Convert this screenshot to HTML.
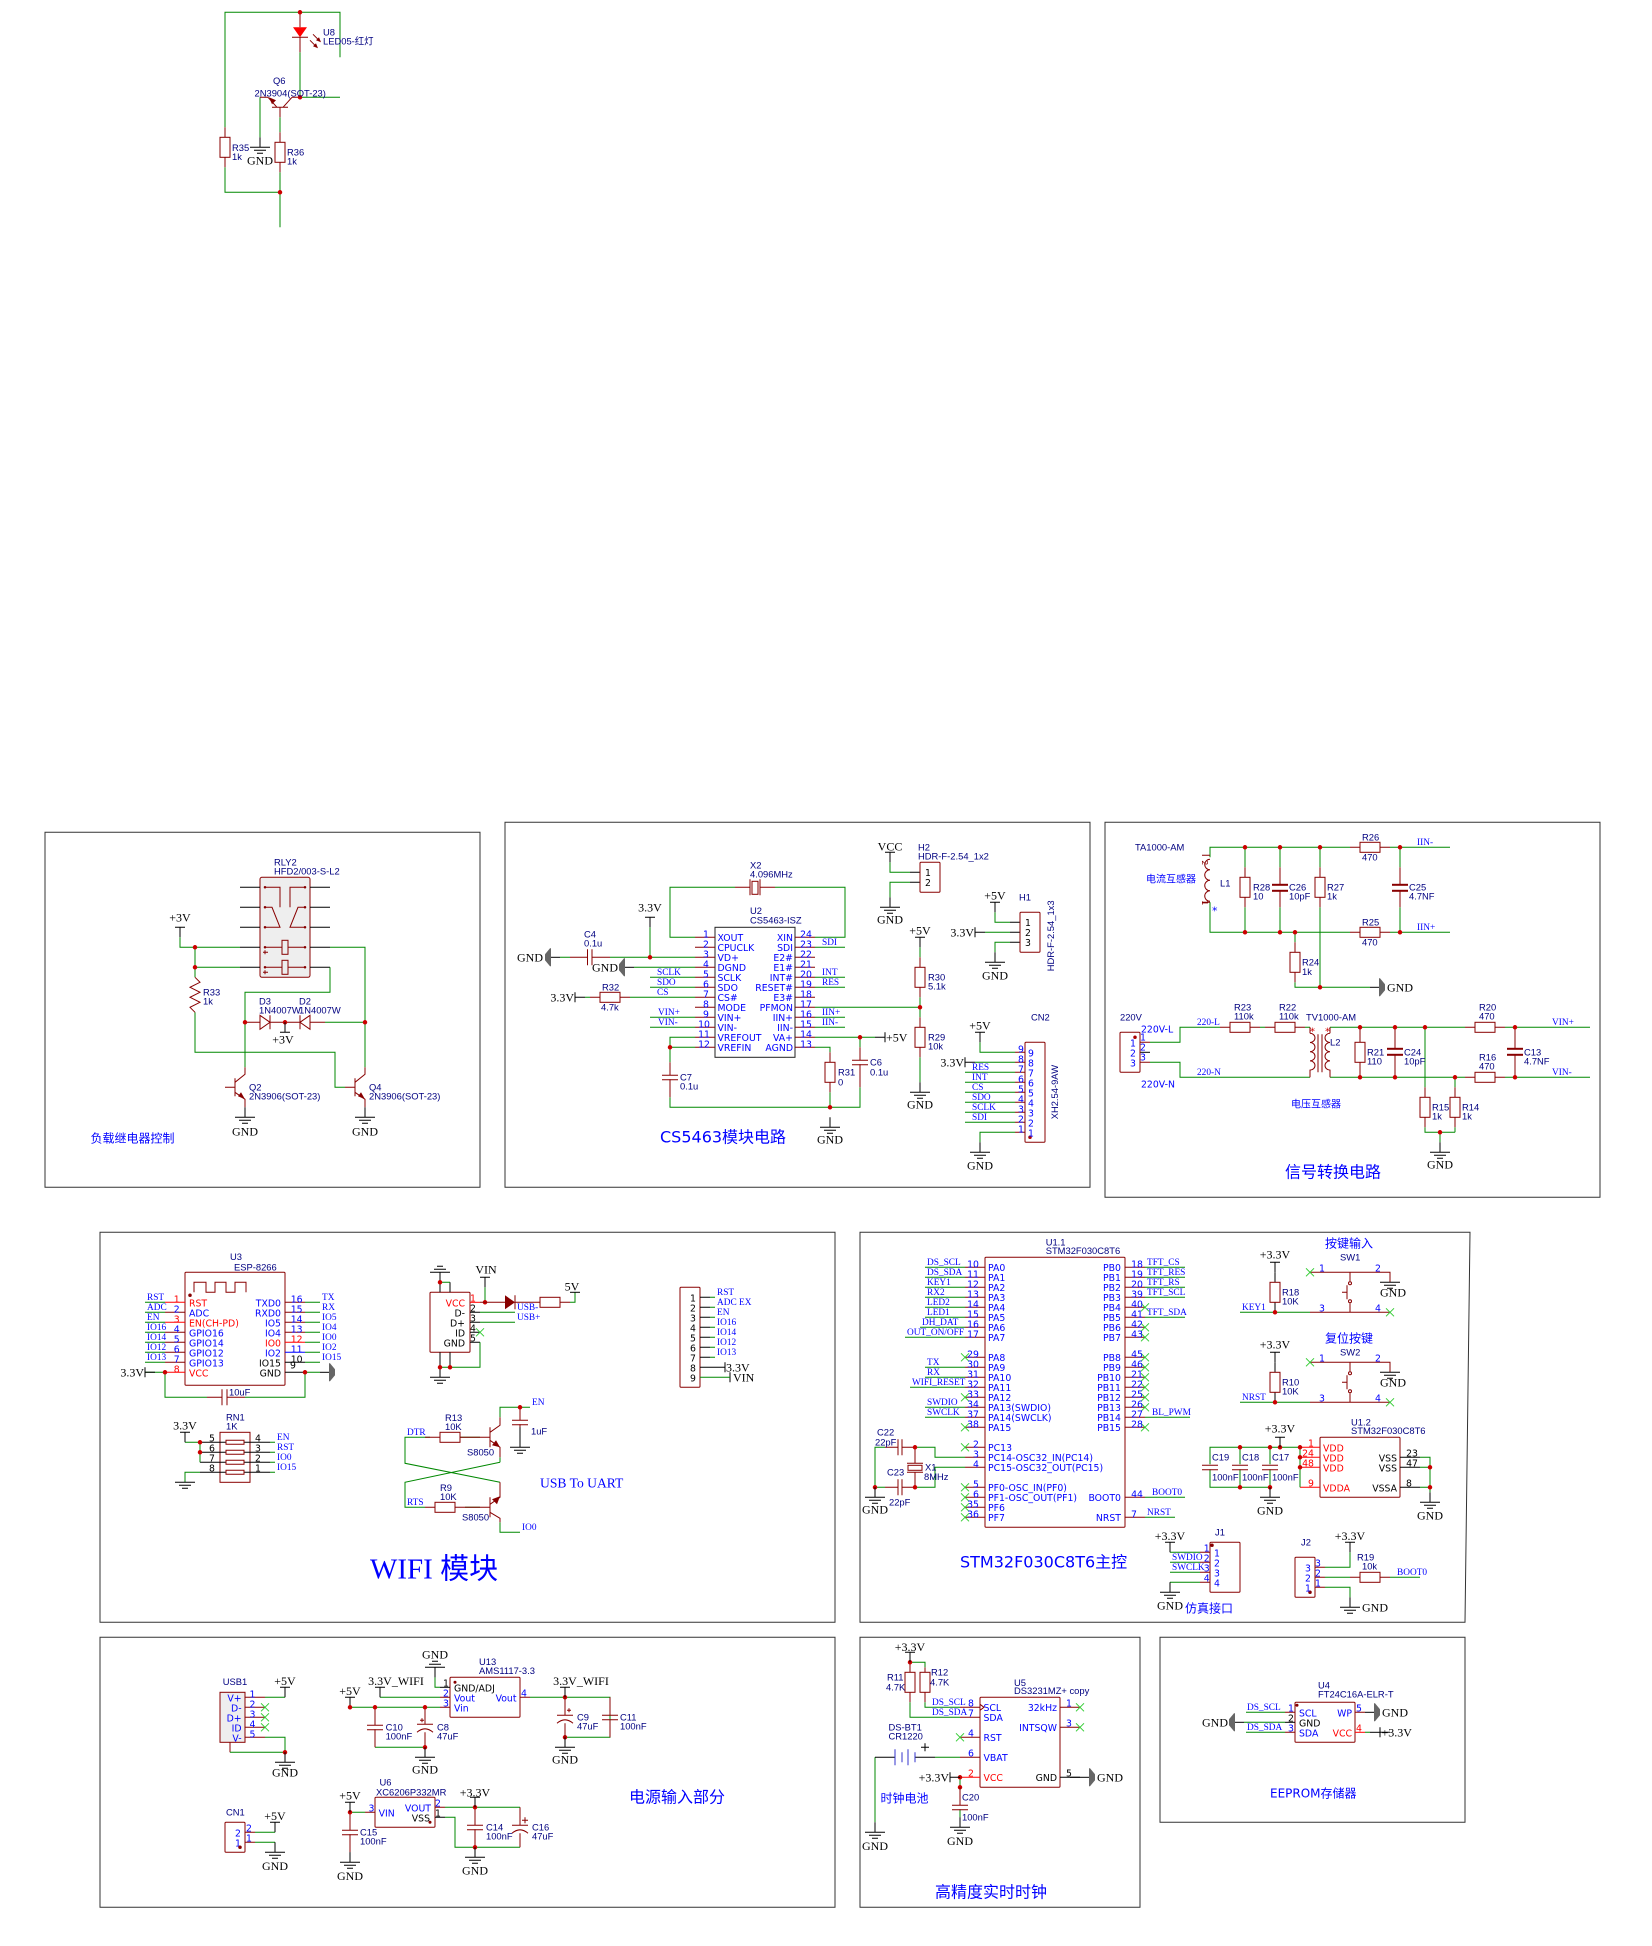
<!DOCTYPE html>
<html><head><meta charset="utf-8"><title>Schematic</title>
<style>
html,body{margin:0;padding:0;background:#fff}
svg{display:block;filter:blur(.3px)}
path,rect,line,polyline{fill:none;stroke-width:1}
.w{stroke:#008800}.p{stroke:#880000}.b{stroke:#000}.R{stroke:#ff0000}.f{stroke:#333}
.d{stroke:#cc0000;stroke-width:4.5;stroke-linecap:round}
.ft{fill:#880000;stroke:none}
.x{stroke:#33cc33}
text{white-space:pre}
.n{font:9.4px "Liberation Sans","Noto Sans CJK SC",sans-serif;fill:#000080}
.a{font:9.33px "DejaVu Sans",sans-serif;fill:#0000ff}
.ae{font:9.33px "DejaVu Sans",sans-serif;fill:#0000ff;text-anchor:end}
.ar{font:9.33px "DejaVu Sans",sans-serif;fill:#ff0000}
.are{font:9.33px "DejaVu Sans",sans-serif;fill:#ff0000;text-anchor:end}
.ak{font:9.33px "DejaVu Sans",sans-serif;fill:#000}
.ake{font:9.33px "DejaVu Sans",sans-serif;fill:#000;text-anchor:end}
.c{font:9.33px "DejaVu Sans",sans-serif;fill:#0000ff;text-anchor:middle}
.cr{font:9.33px "DejaVu Sans",sans-serif;fill:#ff0000;text-anchor:middle}
.ck{font:9.33px "DejaVu Sans",sans-serif;fill:#000;text-anchor:middle}
.l{font:9.33px "Liberation Serif",serif;fill:#0000ff}
.g{font:12px "Liberation Serif",serif;fill:#000;text-anchor:middle}
.gs{font:12px "Liberation Serif",serif;fill:#000}
.ge{font:12px "Liberation Serif",serif;fill:#000;text-anchor:end}
.t16{font:16px "DejaVu Sans","Noto Sans CJK SC",sans-serif;fill:#0000ff}
.t12{font:12px "DejaVu Sans","Noto Sans CJK SC",sans-serif;fill:#0000ff}
.t10{font:10px "DejaVu Sans","Noto Sans CJK SC",sans-serif;fill:#0000ff}
</style></head><body>
<svg xmlns="http://www.w3.org/2000/svg" width="1652" height="1946" viewBox="0 0 1652 1946">
<defs>
<path id="G" class="b" d="M0 -10V0M-10 0H10M-6 3H6M-3 6H3"/>
<path id="Gu" class="b" d="M0 10V0M-10 0H10M-6 -3H6M-3 -6H3"/>
<g id="Gl"><path class="b" d="M10 0H0"/><polygon points="0,-9 1,-9 1,9 0,9 -5,3 -5,-3" fill="#666"/></g>
<g id="Gr"><path class="b" d="M-10 0H0"/><polygon points="0,-9 -1,-9 -1,9 0,9 5,3 5,-3" fill="#666"/></g>
<path id="P" class="b" d="M0 10V0M-5 0H5"/>
<path id="Pl" class="b" d="M10 0H0M0 -5V5"/>
<path id="X" class="x" d="M-4 -4L4 4M4 -4L-4 4"/>
<rect id="V" class="p" x="-5" y="0" width="10" height="20"/>
<rect id="H" class="p" x="0" y="-5" width="20" height="10"/>
<path id="C" class="p" d="M-8 0H8M-8 4.5H8"/>
<path id="CP" class="p" d="M-8 0H8M-8 8Q0 1 8 8"/>
<path id="Cv" class="p" d="M0 -8V8M4.5 -8V8"/>
</defs>
<g transform="translate(0,2.3)">

<!-- frames -->
<path class="f" d="M45 830H480V1185H45Z"/>
<path class="f" d="M505 820H1090V1185H505Z"/>
<path class="f" d="M1105 820H1600V1195H1105Z"/>
<path class="f" d="M100 1230H835V1620H100Z"/>
<path class="f" d="M860 1230H1470L1465 1620H860Z"/>
<path class="f" d="M100 1635H835V1905H100Z"/>
<path class="f" d="M860 1635H1140V1905H860Z"/>
<path class="f" d="M1160 1635H1465V1820H1160Z"/>

<!-- block 0: LED driver -->
<path class="w" d="M225 125V10H340V55M300 50V95H340M260 95V135M280 115V130M280 170V225M225 165V190H280"/>
<path class="p" d="M300 10V25M300 35V50M292 35H308M268 95L277 105M292 95L283 105M292 95H300M260 95H268M272 105H288M280 105V115M280 130V140M280 160V170M225 125V135M225 155V165M313 32L320 39M310 38L317 45"/>
<polygon points="293,25 307,25 300,35" fill="#ff0000"/>
<polygon class="ft" points="269,95 276,98 272,102"/>
<polygon class="ft" points="321,40 316,38 319,35"/><polygon class="ft" points="318,46 313,44 316,41"/>
<rect class="p" x="220" y="135" width="10" height="20"/><use href="#V" x="280" y="140"/>
<path class="d" d="M300 10h0M300 95h0M280 190h0"/>
<use href="#G" x="260" y="145"/>
<text class="g" x="260" y="162">GND</text>
<text class="n" x="323" y="33">U8</text><text class="n" x="323" y="42">LED05-红灯</text>
<text class="n" x="273" y="81.5">Q6</text><text class="n" x="254.5" y="94">2N3904(SOT-23)</text>
<text class="n" x="232" y="148.5">R35</text><text class="n" x="232" y="157.5">1k</text>
<text class="n" x="287" y="153">R36</text><text class="n" x="287" y="162">1k</text>

<!-- block 1: relay -->
<rect x="260" y="875" width="50" height="100" rx="2" fill="#eeeeee" style="fill:#eee;stroke:#880000"/>
<path class="b" d="M240 885H260M240 905H260M240 925H260M240 945H260M240 965H260M310 885H330M310 905H330M310 925H330M310 945H330M310 965H330"/>
<path class="p" d="M265 885H280V905M265 905H272L280 925H265M305 885H290V905M305 905H298L290 925H305M265 945H282M288 945H305M265 965H282M288 965H305M263 950H268M265 948V952M263 970H268M265 968V972"/>
<rect class="p" x="282" y="938" width="6" height="14"/><rect class="p" x="282" y="958" width="6" height="14"/>
<path d="M265 885h0M265 905h0M265 925h0M305 885h0M305 905h0M305 925h0M265 945h0M305 945h0M265 965h0M305 965h0" style="stroke:#880000;stroke-width:2.5;stroke-linecap:round"/>
<use href="#P" x="180" y="925"/><text class="g" x="180" y="919">+3V</text>
<path class="w" d="M180 935V945H240M195 945V975M195 965H240M195 1010V1050H335V1085H345M330 945H365V1065M330 965V990H245V1065M325 1020H365"/>
<path class="p" d="M195 975L200 980L190 985L200 990L190 995L200 1000L190 1005L195 1010M345 1085H355M225 1085H235M245 1020H260M270 1020H300M310 1020H325M245 1065V1072L235 1080M235 1090L245 1097V1105M365 1065V1072L355 1080M355 1090L365 1097V1105M235 1076V1094M355 1076V1094"/>
<path class="p" d="M260 1013V1027L270 1020ZM270 1013V1027M310 1013V1027L300 1020ZM300 1013V1027"/>
<polygon class="ft" points="245,1097 238,1094 241,1090"/><polygon class="ft" points="365,1097 358,1094 361,1090"/>
<path class="d" d="M195 945h0M195 965h0M245 1020h0M285 1020h0M365 1020h0"/>
<path class="b" d="M285 1020V1030M280 1030H290"/>
<text class="g" x="283" y="1041">+3V</text>
<use href="#G" x="245" y="1115"/><use href="#G" x="365" y="1115"/>
<text class="g" x="245" y="1133">GND</text><text class="g" x="365" y="1133">GND</text>
<text class="n" x="274" y="863">RLY2</text><text class="n" x="274" y="872">HFD2/003-S-L2</text>
<text class="n" x="203" y="993">R33</text><text class="n" x="203" y="1002">1k</text>
<text class="n" x="259" y="1002">D3</text><text class="n" x="259" y="1011">1N4007W</text>
<text class="n" x="299" y="1002">D2</text><text class="n" x="299" y="1011">1N4007W</text>
<text class="n" x="249" y="1088">Q2</text><text class="n" x="249" y="1097">2N3906(SOT-23)</text>
<text class="n" x="369" y="1088">Q4</text><text class="n" x="369" y="1097">2N3906(SOT-23)</text>
<text class="t12" x="90.5" y="1140">负载继电器控制</text>

<!-- block 2: CS5463 -->
<rect x="715" y="925" width="80" height="130" style="stroke:#222"/>
<path class="p" d="M695 935H715M695 945H715M695 955H715M695 965H715M695 975H715M695 985H715M695 995H715M695 1005H715M695 1015H715M695 1025H715M695 1035H715M695 1045H715M795 935H815M795 945H815M795 955H815M795 965H815M795 975H815M795 985H815M795 995H815M795 1005H815M795 1015H815M795 1025H815M795 1035H815M795 1045H815"/>
<path class="w" d="M695 935H670V885H735M775 885H845V935H815M815 945H845M650 925V955H695M610 955H650M560 955H570M634 965H695M650 975H695M650 985H695M630 995H695M650 1015H695M650 1025H695M695 1035H670V1060M695 1045H670M585 995H590M815 975H845M815 985H845M815 1015H845M815 1025H845M815 1035H875M815 1005H920M815 1045H830V1050M830 1090V1105M670 1095V1105H860V1085M860 1035V1045M920 945V955M920 995V1015M920 1055V1080M890 860V870H910M910 880H890V895M995 910V920H1010M985 930H1010M1010 940H995V950M980 1040V1050H1015M975 1060H1015M965 1070H1015M965 1080H1015M965 1090H1015M965 1100H1015M965 1110H1015M965 1120H1015M1015 1130H980V1140"/>
<path class="p" d="M735 885H750M760 885H775M570 955H587M592 955H610M590 995H600M620 995H630M670 1060V1073M670 1077V1095M830 1050V1060M830 1080V1090M860 1045V1058M860 1062V1085M920 955V965M920 985V995M920 1015V1025M920 1045V1055M1015 1050H1025M1015 1060H1025M1015 1070H1025M1015 1080H1025M1015 1090H1025M1015 1100H1025M1015 1110H1025M1015 1120H1025M1015 1130H1025"/>
<path class="p" d="M750 877V893M760 877V893"/><rect class="p" x="752" y="879" width="6" height="13"/>
<use href="#Cv" x="587.5" y="955"/><use href="#C" x="670" y="1073"/><use href="#C" x="860" y="1058"/>
<use href="#H" x="600" y="995"/><use href="#V" x="830" y="1060"/><use href="#V" x="920" y="965"/><use href="#V" x="920" y="1025"/>
<path class="d" d="M650 955h0M670 1045h0M830 1105h0M860 1035h0M920 1005h0"/>
<use href="#P" x="650" y="915"/><text class="g" x="650" y="909">3.3V</text>
<use href="#Gl" x="550" y="955"/><text class="ge" x="543" y="959">GND</text>
<use href="#Gl" x="624" y="965"/><text class="ge" x="618" y="969">GND</text>
<use href="#Pl" x="575" y="995"/><text class="ge" x="574" y="999">3.3V</text>
<path class="b" d="M875 1035H885M885 1030V1040"/><text class="gs" x="886" y="1039">+5V</text>
<use href="#G" x="830" y="1125"/><text class="g" x="830" y="1141">GND</text>
<use href="#P" x="920" y="935"/><text class="g" x="920" y="932">+5V</text>
<use href="#G" x="920" y="1090"/><text class="g" x="920" y="1106">GND</text>
<use href="#P" x="890" y="850"/><text class="g" x="890" y="848">VCC</text>
<use href="#G" x="890" y="905"/><text class="g" x="890" y="921">GND</text>
<use href="#P" x="995" y="900"/><text class="g" x="995" y="897">+5V</text>
<use href="#Pl" x="975" y="930"/><text class="ge" x="974" y="934">3.3V</text>
<use href="#G" x="995" y="960"/><text class="g" x="995" y="977">GND</text>
<use href="#P" x="980" y="1030"/><text class="g" x="980" y="1027">+5V</text>
<use href="#Pl" x="965" y="1060"/><text class="ge" x="964" y="1064">3.3V</text>
<use href="#G" x="980" y="1150"/><text class="g" x="980" y="1167">GND</text>
<path class="b" d="M910 870H920M910 880H920M1010 920H1020M1010 930H1020M1010 940H1020"/>
<rect x="920" y="860" width="20" height="30" rx="1" class="p"/>
<rect x="1020" y="910" width="20" height="40" rx="1" class="p"/>
<rect x="1025" y="1040" width="20" height="100" rx="1" class="p"/>
<path class="d" d="M1030 1135h0" style="stroke-width:3.5;stroke:#aa0000"/>
<g>
<text class="c" x="706" y="935">1</text><text class="c" x="706" y="945">2</text><text class="c" x="706" y="955">3</text><text class="c" x="706" y="965">4</text><text class="c" x="706" y="975">5</text><text class="c" x="706" y="985">6</text><text class="c" x="706" y="995">7</text><text class="c" x="706" y="1005">8</text><text class="c" x="706" y="1015">9</text><text class="c" x="704" y="1025">10</text><text class="c" x="704" y="1035">11</text><text class="c" x="704" y="1045">12</text>
<text class="c" x="806" y="935">24</text><text class="c" x="806" y="945">23</text><text class="c" x="806" y="955">22</text><text class="c" x="806" y="965">21</text><text class="c" x="806" y="975">20</text><text class="c" x="806" y="985">19</text><text class="c" x="806" y="995">18</text><text class="c" x="806" y="1005">17</text><text class="c" x="806" y="1015">16</text><text class="c" x="806" y="1025">15</text><text class="c" x="806" y="1035">14</text><text class="c" x="806" y="1045">13</text>
<text class="a" x="717.5" y="938.5">XOUT</text><text class="a" x="717.5" y="948.5">CPUCLK</text><text class="a" x="717.5" y="958.5">VD+</text><text class="a" x="717.5" y="968.5">DGND</text><text class="a" x="717.5" y="978.5">SCLK</text><text class="a" x="717.5" y="988.5">SDO</text><text class="a" x="717.5" y="998.5">CS#</text><text class="a" x="717.5" y="1008.5">MODE</text><text class="a" x="717.5" y="1018.5">VIN+</text><text class="a" x="717.5" y="1028.5">VIN-</text><text class="a" x="717.5" y="1038.5">VREFOUT</text><text class="a" x="717.5" y="1048.5">VREFIN</text>
<text class="ae" x="793" y="938.5">XIN</text><text class="ae" x="793" y="948.5">SDI</text><text class="ae" x="793" y="958.5">E2#</text><text class="ae" x="793" y="968.5">E1#</text><text class="ae" x="793" y="978.5">INT#</text><text class="ae" x="793" y="988.5">RESET#</text><text class="ae" x="793" y="998.5">E3#</text><text class="ae" x="793" y="1008.5">PFMON</text><text class="ae" x="793" y="1018.5">IIN+</text><text class="ae" x="793" y="1028.5">IIN-</text><text class="ae" x="793" y="1038.5">VA+</text><text class="ae" x="793" y="1048.5">AGND</text>
</g>
<text class="l" x="822" y="942.7">SDI</text><text class="l" x="822" y="972.7">INT</text><text class="l" x="822" y="982.7">RES</text><text class="l" x="822" y="1012.7">IIN+</text><text class="l" x="822" y="1022.7">IIN-</text>
<text class="l" x="657" y="972.7">SCLK</text><text class="l" x="657" y="982.7">SDO</text><text class="l" x="657" y="992.7">CS</text><text class="l" x="658" y="1012.7">VIN+</text><text class="l" x="658" y="1022.7">VIN-</text>
<text class="n" x="750" y="911.7">U2</text><text class="n" x="750" y="921">CS5463-ISZ</text>
<text class="n" x="750" y="866">X2</text><text class="n" x="750" y="875">4.096MHz</text>
<text class="n" x="584" y="935">C4</text><text class="n" x="584" y="944.4">0.1u</text>
<text class="n" x="602" y="988">R32</text><text class="n" x="601" y="1008">4.7k</text>
<text class="n" x="680" y="1078">C7</text><text class="n" x="680" y="1087">0.1u</text>
<text class="n" x="838" y="1073">R31</text><text class="n" x="838" y="1083">0</text>
<text class="n" x="870" y="1063">C6</text><text class="n" x="870" y="1073">0.1u</text>
<text class="n" x="928" y="978">R30</text><text class="n" x="928" y="987">5.1k</text>
<text class="n" x="928" y="1038">R29</text><text class="n" x="928" y="1047">10k</text>
<text class="n" x="918" y="848">H2</text><text class="n" x="918" y="857">HDR-F-2.54_1x2</text>
<text class="n" x="1019" y="898">H1</text>
<text class="n" transform="translate(1054,969) rotate(-90)">HDR-F-2.54_1x3</text>
<text class="n" x="1031" y="1018">CN2</text>
<text class="n" transform="translate(1058,1117) rotate(-90)">XH2.54-9AW</text>
<text class="ck" x="928" y="873.5" style="fill:#000">1</text><text class="ck" x="928" y="883.5">2</text>
<text class="ck" x="1028" y="923.5">1</text><text class="ck" x="1028" y="933.5">2</text><text class="ck" x="1028" y="943.5">3</text>
<text class="c" x="1021" y="1050">9</text><text class="c" x="1021" y="1060">8</text><text class="c" x="1021" y="1070">7</text><text class="c" x="1021" y="1080">6</text><text class="c" x="1021" y="1090">5</text><text class="c" x="1021" y="1100">4</text><text class="c" x="1021" y="1110">3</text><text class="c" x="1021" y="1120">2</text><text class="c" x="1021" y="1130">1</text>
<text class="c" x="1031" y="1054">9</text><text class="c" x="1031" y="1064">8</text><text class="c" x="1031" y="1074">7</text><text class="c" x="1031" y="1084">6</text><text class="c" x="1031" y="1094">5</text><text class="c" x="1031" y="1104">4</text><text class="c" x="1031" y="1114">3</text><text class="c" x="1031" y="1124">2</text><text class="c" x="1031" y="1134">1</text>
<text class="l" x="972" y="1067.7">RES</text><text class="l" x="972" y="1077.7">INT</text><text class="l" x="972" y="1087.7">CS</text><text class="l" x="972" y="1097.7">SDO</text><text class="l" x="972" y="1107.7">SCLK</text><text class="l" x="972" y="1117.7">SDI</text>
<text class="t16" x="660" y="1140">CS5463模块电路</text>

<!-- block 3: signal -->
<path class="w" d="M1210 855V845H1350M1390 845H1450M1210 900V930H1350M1390 930H1450M1245 845V865M1245 905V930M1280 845V865M1280 905V930M1320 845V865M1320 905V985M1400 845V865M1400 905V930M1295 930V940M1295 980V985H1370M1150 1040H1180V1025H1220M1260 1025H1265M1305 1025H1310M1150 1060H1180V1075H1310M1330 1025H1465M1505 1025H1590M1330 1075H1465M1505 1075H1590M1425 1025V1085M1455 1075V1085M1425 1125V1130H1455M1455 1125V1130M1440 1130V1140"/>
<path class="p" d="M1350 845H1360M1380 845H1390M1350 930H1360M1380 930H1390M1245 865V875M1245 895V905M1280 865V882M1280 889V905M1320 865V875M1320 895V905M1400 865V882M1400 889V905M1295 940V950M1295 970V980M1220 1025H1230M1250 1025H1260M1265 1025H1275M1295 1025H1305M1465 1025H1475M1495 1025H1505M1465 1075H1475M1495 1075H1505M1360 1025V1040M1360 1060V1075M1395 1025V1046M1395 1053V1075M1425 1085V1095M1425 1115V1125M1455 1085V1095M1455 1115V1125M1515 1025V1046M1515 1053V1075M1140 1040H1150M1140 1060H1150M1318 1032V1070M1322 1032V1070M1202 853H1210M1202 900H1210"/>
<path class="b" d="M1140 1050H1150"/>
<path class="p" d="M1210 857a5 5 0 0 0 0 10.5a5 5 0 0 0 0 10.5a5 5 0 0 0 0 10.5a5 5 0 0 0 0 10.5"/>
<path class="p" d="M1310 1031a5 4.6 0 0 1 0 9.2a5 4.6 0 0 1 0 9.2a5 4.6 0 0 1 0 9.2a5 4.6 0 0 1 0 9.2V1075M1330 1031a5 4.6 0 0 0 0 9.2a5 4.6 0 0 0 0 9.2a5 4.6 0 0 0 0 9.2a5 4.6 0 0 0 0 9.2V1075M1310 1025V1031M1330 1025V1031"/>
<use href="#H" x="1360" y="845"/><use href="#H" x="1360" y="930"/><use href="#V" x="1245" y="875"/><use href="#V" x="1320" y="875"/><use href="#V" x="1295" y="950"/>
<use href="#H" x="1230" y="1025"/><use href="#H" x="1275" y="1025"/><use href="#H" x="1475" y="1025"/><use href="#H" x="1475" y="1075"/><use href="#V" x="1360" y="1040"/><use href="#V" x="1425" y="1095"/><use href="#V" x="1455" y="1095"/>
<rect class="p" x="1272.5" y="882" width="15" height="1"/><rect class="p" x="1272.5" y="888" width="15" height="1"/>
<rect class="p" x="1392.5" y="882" width="15" height="1"/><rect class="p" x="1392.5" y="888" width="15" height="1"/>
<rect class="p" x="1387.5" y="1046" width="15" height="1"/><rect class="p" x="1387.5" y="1052" width="15" height="1"/>
<rect class="p" x="1507.5" y="1046" width="15" height="1"/><rect class="p" x="1507.5" y="1052" width="15" height="1"/>
<rect class="p" x="1120" y="1030" width="20" height="40" rx="1"/>
<path class="d" d="M1245 845h0M1280 845h0M1320 845h0M1400 845h0M1245 930h0M1280 930h0M1295 930h0M1400 930h0M1320 985h0M1360 1025h0M1395 1025h0M1425 1025h0M1515 1025h0M1360 1075h0M1395 1075h0M1455 1075h0M1515 1075h0M1440 1130h0"/>
<path class="d" d="M1135 1035h0" style="stroke-width:3.5;stroke:#aa0000"/>
<use href="#Gr" x="1380" y="985"/>
<text class="gs" x="1387" y="989">GND</text>
<use href="#G" x="1440" y="1150"/><text class="g" x="1440" y="1166">GND</text>
<text class="n" x="1135" y="848">TA1000-AM</text><text class="t10" x="1146" y="880">电流互感器</text>
<text class="n" x="1220" y="884">L1</text>
<text transform="translate(1202,858) rotate(90)" style="font:8px 'DejaVu Sans',sans-serif;fill:#880000">2</text>
<text transform="translate(1202,898) rotate(90)" style="font:8px 'DejaVu Sans',sans-serif;fill:#880000">1</text>
<text x="1212" y="912" style="font:11px 'DejaVu Sans',sans-serif;fill:#0000ff">*</text>
<text x="1310" y="1032" style="font:10px 'DejaVu Sans',sans-serif;fill:#cc0000">*</text>
<text x="1325" y="1032" style="font:10px 'DejaVu Sans',sans-serif;fill:#cc0000">*</text>
<text class="n" x="1253" y="888">R28</text><text class="n" x="1253" y="897">10</text>
<text class="n" x="1289" y="888">C26</text><text class="n" x="1289" y="897">10pF</text>
<text class="n" x="1327" y="888">R27</text><text class="n" x="1327" y="897">1k</text>
<text class="n" x="1409" y="888">C25</text><text class="n" x="1409" y="897">4.7NF</text>
<text class="n" x="1362" y="838">R26</text><text class="n" x="1362" y="858">470</text>
<text class="n" x="1362" y="923">R25</text><text class="n" x="1362" y="943">470</text>
<text class="l" x="1417" y="842.7">IIN-</text><text class="l" x="1417" y="927.7">IIN+</text>
<text class="n" x="1302" y="963.4">R24</text><text class="n" x="1302" y="972.7">1k</text>
<text class="n" x="1120" y="1018">220V</text>
<text class="a" x="1141" y="1030">220V-L</text><text class="a" x="1141" y="1085">220V-N</text>
<text class="c" x="1133" y="1044">1</text><text class="c" x="1133" y="1054">2</text><text class="c" x="1133" y="1064">3</text>
<text class="c" x="1143" y="1038">1</text><text class="c" x="1143" y="1048">2</text><text class="c" x="1143" y="1058">3</text>
<text class="l" x="1197" y="1022.7">220-L</text><text class="l" x="1197" y="1072.7">220-N</text>
<text class="n" x="1234" y="1008">R23</text><text class="n" x="1234" y="1017">110k</text>
<text class="n" x="1279" y="1008">R22</text><text class="n" x="1279" y="1017">110k</text>
<text class="n" x="1306" y="1018">TV1000-AM</text><text class="n" x="1330" y="1043">L2</text>
<text class="n" x="1367" y="1053.4">R21</text><text class="n" x="1367" y="1062">110</text>
<text class="n" x="1404" y="1053.4">C24</text><text class="n" x="1404" y="1062">10pF</text>
<text class="n" x="1524" y="1053.4">C13</text><text class="n" x="1524" y="1062">4.7NF</text>
<text class="n" x="1479" y="1008">R20</text><text class="n" x="1479" y="1017">470</text>
<text class="n" x="1479" y="1058">R16</text><text class="n" x="1479" y="1067">470</text>
<text class="l" x="1552" y="1022.7">VIN+</text><text class="l" x="1552" y="1072.7">VIN-</text>
<text class="n" x="1432" y="1108">R15</text><text class="n" x="1432" y="1117">1k</text>
<text class="n" x="1462" y="1108">R14</text><text class="n" x="1462" y="1117">1k</text>
<text class="t10" x="1291" y="1105">电压互感器</text>
<text class="t16" x="1285" y="1175">信号转换电路</text>

<!-- block 4: WIFI -->
<rect class="p" x="185" y="1270" width="100" height="113" rx="1"/>
<path class="p" d="M194 1290V1280H206V1290H215V1280H226V1290H235V1280H246V1290"/>
<path class="p" d="M165 1310H185M165 1330H185M165 1340H185M165 1350H185M165 1360H185M285 1300H305M285 1310H305M285 1320H305M285 1330H305"/>
<path class="R" d="M165 1300H185M165 1320H185M165 1370H185M285 1340H305"/>
<path style="stroke:#0000ff" d="M285 1350H305"/>
<path class="b" d="M285 1360H305M285 1370H305"/>
<path class="w" d="M145 1300H165M145 1310H165M145 1320H165M145 1330H165M145 1340H165M145 1350H165M145 1360H165M305 1300H320M305 1310H320M305 1320H320M305 1330H320M305 1340H320M305 1350H320M305 1360H320M145 1370H165V1395H207M245 1395H305V1370M305 1370H320"/>
<path class="p" d="M207 1395H222M227 1395H245M222 1387V1403M227 1387V1403"/>
<path class="d" d="M165 1370h0M305 1370h0"/>
<path class="d" d="M190 1293h0" style="stroke-width:3.5;stroke:#880000"/>
<use href="#Pl" x="145" y="1370"/><text class="ge" x="144" y="1374">3.3V</text>
<use href="#Gr" x="330" y="1370"/>
<text class="n" x="230" y="1257.7">U3</text><text class="n" x="234" y="1268.4">ESP-8266</text>
<text class="n" x="229" y="1393.4">10uF</text>
<text class="l" x="147" y="1297.7">RST</text><text class="l" x="147" y="1307.7">ADC</text><text class="l" x="147" y="1317.7">EN</text><text class="l" x="147" y="1327.7">IO16</text><text class="l" x="147" y="1337.7">IO14</text><text class="l" x="147" y="1347.7">IO12</text><text class="l" x="147" y="1357.7">IO13</text>
<text class="cr" x="176.7" y="1300">1</text><text class="c" x="176.7" y="1310">2</text><text class="cr" x="176.7" y="1320">3</text><text class="c" x="176.7" y="1330">4</text><text class="c" x="176.7" y="1340">5</text><text class="c" x="176.7" y="1350">6</text><text class="c" x="176.7" y="1360">7</text><text class="cr" x="176.7" y="1370">8</text>
<text class="ar" x="189" y="1304">RST</text><text class="a" x="189" y="1314">ADC</text><text class="ar" x="189" y="1324">EN(CH-PD)</text><text class="a" x="189" y="1334">GPIO16</text><text class="a" x="189" y="1344">GPIO14</text><text class="a" x="189" y="1354">GPIO12</text><text class="a" x="189" y="1364">GPIO13</text><text class="ar" x="189" y="1374">VCC</text>
<text class="ae" x="281" y="1304">TXD0</text><text class="ae" x="281" y="1314">RXD0</text><text class="ae" x="281" y="1324">IO5</text><text class="ae" x="281" y="1334">IO4</text><text class="are" x="281" y="1344">IO0</text><text class="ae" x="281" y="1354">IO2</text><text class="ake" x="281" y="1364">IO15</text><text class="ake" x="281" y="1374">GND</text>
<text class="c" x="296.7" y="1300">16</text><text class="c" x="296.7" y="1310">15</text><text class="c" x="296.7" y="1320">14</text><text class="c" x="296.7" y="1330">13</text><text class="cr" x="296.7" y="1340">12</text><text class="c" x="296.7" y="1350">11</text><text class="ck" x="296.7" y="1360">10</text><text class="ck" x="293" y="1366">9</text>
<text class="l" x="322" y="1297.7">TX</text><text class="l" x="322" y="1307.7">RX</text><text class="l" x="322" y="1317.7">IO5</text><text class="l" x="322" y="1327.7">IO4</text><text class="l" x="322" y="1337.7">IO0</text><text class="l" x="322" y="1347.7">IO2</text><text class="l" x="322" y="1357.7">IO15</text>
<!-- RN1 -->
<rect class="p" x="220" y="1430" width="30" height="50"/>
<path class="b" d="M200 1440H226M244 1440H270M200 1450H226M244 1450H270M200 1460H226M244 1460H270M200 1470H226M244 1470H270"/>
<path class="p" d="M226 1438H244V1442H226ZM226 1448H244V1452H226ZM226 1458H244V1462H226ZM226 1468H244V1472H226Z"/>
<path class="w" d="M185 1440H200V1460M270 1440H275M270 1450H275M270 1460H275M270 1470H275M200 1470H185V1480"/>
<path class="d" d="M200 1440h0M200 1450h0"/>
<use href="#P" x="185" y="1430"/><text class="g" x="185" y="1427">3.3V</text>
<path class="b" d="M175 1480H195M179 1483H191M182 1486H188"/>
<text class="n" x="226" y="1418">RN1</text><text class="n" x="226" y="1427">1K</text>
<text class="ck" x="212" y="1439">5</text><text class="ck" x="212" y="1449">6</text><text class="ck" x="212" y="1459">7</text><text class="ck" x="212" y="1469">8</text>
<text class="ck" x="258" y="1439">4</text><text class="ck" x="258" y="1449">3</text><text class="ck" x="258" y="1459">2</text><text class="ck" x="258" y="1469">1</text>
<text class="l" x="277" y="1437.7">EN</text><text class="l" x="277" y="1447.7">RST</text><text class="l" x="277" y="1457.7">IO0</text><text class="l" x="277" y="1467.7">IO15</text>
<!-- USB connector -->
<rect class="p" x="430" y="1290" width="40" height="60" rx="1"/>
<path class="R" d="M470 1300H480"/>
<path class="b" d="M470 1310H480M470 1320H480M470 1330H480M470 1340H480M440 1280V1290M450 1280V1290M440 1350V1365M450 1350V1365"/>
<path class="w" d="M440 1280H450M450 1365H480V1340M440 1365H450M480 1310H515M480 1320H515M485 1285V1300M570 1300H575V1290"/>
<use href="#Gu" x="440" y="1270"/>
<use href="#G" x="440" y="1375"/>
<path class="d" d="M440 1280h0M440 1365h0M450 1365h0M485 1300h0"/>
<use href="#X" x="480" y="1330"/>
<path class="p" d="M480 1300H505M515 1293V1307M515 1300H540M560 1300H570"/>
<polygon class="ft" points="505,1293 505,1307 515,1300"/>
<use href="#H" x="540" y="1300"/>
<use href="#P" x="485" y="1275"/><text class="g" x="486" y="1271">VIN</text>
<path class="b" d="M570 1290H580"/><text class="g" x="572" y="1288">5V</text>
<text class="are" x="465" y="1304">VCC</text><text class="ake" x="465" y="1314">D-</text><text class="ake" x="465" y="1324">D+</text><text class="ake" x="465" y="1334">ID</text><text class="ake" x="465" y="1344">GND</text>
<text class="cr" x="473" y="1299">1</text><text class="ck" x="473" y="1309">2</text><text class="ck" x="473" y="1319">3</text><text class="ck" x="473" y="1329">4</text><text class="ck" x="473" y="1339">5</text>
<text class="l" x="517" y="1307.7">USB-</text><text class="l" x="517" y="1317.7">USB+</text>
<!-- right header -->
<rect class="p" x="680" y="1285" width="20" height="100" rx="1"/>
<path class="b" d="M700 1295H710M700 1305H710M700 1315H710M700 1325H710M700 1335H710M700 1345H710M700 1355H710M700 1365H725M725 1360V1370M730 1370V1380"/>
<path class="w" d="M710 1295H715M710 1305H715M710 1315H715M710 1325H715M710 1335H715M710 1345H715M710 1355H715M700 1375H730"/>
<text class="ck" x="693" y="1299">1</text><text class="ck" x="693" y="1309">2</text><text class="ck" x="693" y="1319">3</text><text class="ck" x="693" y="1329">4</text><text class="ck" x="693" y="1339">5</text><text class="ck" x="693" y="1349">6</text><text class="ck" x="693" y="1359">7</text><text class="ck" x="693" y="1369">8</text><text class="ck" x="693" y="1379">9</text>
<text class="l" x="717" y="1292.7">RST</text><text class="l" x="717" y="1302.7">ADC EX</text><text class="l" x="717" y="1312.7">EN</text><text class="l" x="717" y="1322.7">IO16</text><text class="l" x="717" y="1332.7">IO14</text><text class="l" x="717" y="1342.7">IO12</text><text class="l" x="717" y="1352.7">IO13</text>
<text class="gs" x="726" y="1369">3.3V</text><text class="gs" x="733" y="1379">VIN</text>
<!-- USB to UART -->
<path class="w" d="M430 1435H405V1461L500 1480M500 1460L405 1480V1505H425M460 1435H480M500 1455V1460M500 1415V1405H530M470 1435H480M465 1505H480M500 1520V1530H520"/>
<path class="p" d="M425 1435H440M460 1435H470M470 1435H490M490 1425V1445M490 1430L500 1423V1415M490 1438L500 1445V1455M425 1505H435M455 1505H465M465 1505H490M490 1495V1515M490 1502L500 1495V1480M490 1510L500 1516V1520M520 1405V1418M520 1422V1430"/>
<use href="#H" x="440" y="1435"/><use href="#H" x="435" y="1505"/>
<use href="#C" x="520" y="1418"/>
<polygon class="ft" points="500,1445 492,1443 496,1438"/><polygon class="ft" points="500,1494 492,1497 497,1502"/>
<path class="b" d="M520 1425V1445M510 1445H530M514 1448H526M517 1451H523"/>
<path class="d" d="M520 1405h0"/>
<text class="l" x="407" y="1432.7">DTR</text><text class="l" x="407" y="1502.7">RTS</text>
<text class="n" x="445" y="1418.7">R13</text><text class="n" x="445" y="1427.7">10K</text>
<text class="n" x="467" y="1453.4">S8050</text>
<text class="n" x="440" y="1488.7">R9</text><text class="n" x="440" y="1497.7">10K</text>
<text class="n" x="462" y="1518.4">S8050</text>
<text class="l" x="532" y="1402.7">EN</text><text class="n" x="531" y="1432">1uF</text>
<text class="l" x="522" y="1527.7">IO0</text>
<text x="540" y="1485.4" style="font:13.6px 'Liberation Serif',serif;fill:#0000ff">USB To UART</text>
<text x="370" y="1576" style="font:29px 'Liberation Serif','Noto Sans CJK SC',serif;fill:#0000ff">WIFI 模块</text>

<!-- block 5: STM32 -->
<rect class="p" x="985" y="1255" width="140" height="270" rx="1"/>
<path class="p" d="M965 1265H985M965 1275H985M965 1285H985M965 1295H985M965 1305H985M965 1315H985M965 1325H985M965 1335H985M965 1355H985M965 1365H985M965 1375H985M965 1385H985M965 1395H985M965 1405H985M965 1415H985M965 1425H985M965 1445H985M965 1455H985M965 1465H985M965 1485H985M965 1495H985M965 1505H985M965 1515H985M1125 1265H1145M1125 1275H1145M1125 1285H1145M1125 1295H1145M1125 1305H1145M1125 1315H1145M1125 1325H1145M1125 1335H1145M1125 1355H1145M1125 1365H1145M1125 1375H1145M1125 1385H1145M1125 1395H1145M1125 1405H1145M1125 1415H1145M1125 1425H1145M1125 1495H1145M1125 1515H1145"/>
<path class="w" d="M925 1265H965M925 1275H965M925 1285H965M925 1295H965M925 1305H965M925 1315H965M920 1325H965M905 1335H965M925 1365H965M925 1375H965M910 1385H965M925 1405H965M925 1415H965M1145 1265H1185M1145 1275H1185M1145 1285H1185M1145 1295H1185M1145 1315H1185M1145 1415H1190M1145 1495H1185M1145 1515H1175"/>
<g>
<use href="#X" x="965" y="1355"/><use href="#X" x="965" y="1395"/><use href="#X" x="965" y="1425"/><use href="#X" x="965" y="1445"/><use href="#X" x="965" y="1485"/><use href="#X" x="965" y="1495"/><use href="#X" x="965" y="1505"/><use href="#X" x="965" y="1515"/>
<use href="#X" x="1145" y="1305"/><use href="#X" x="1145" y="1325"/><use href="#X" x="1145" y="1335"/><use href="#X" x="1145" y="1355"/><use href="#X" x="1145" y="1365"/><use href="#X" x="1145" y="1375"/><use href="#X" x="1145" y="1385"/><use href="#X" x="1145" y="1395"/><use href="#X" x="1145" y="1405"/><use href="#X" x="1145" y="1425"/>
</g>
<text class="n" x="1045.7" y="1243.4">U1.1</text><text class="n" x="1045.7" y="1251.7">STM32F030C8T6</text>
<text class="a" x="988" y="1268.5">PA0</text><text class="a" x="988" y="1278.5">PA1</text><text class="a" x="988" y="1288.5">PA2</text><text class="a" x="988" y="1298.5">PA3</text><text class="a" x="988" y="1308.5">PA4</text><text class="a" x="988" y="1318.5">PA5</text><text class="a" x="988" y="1328.5">PA6</text><text class="a" x="988" y="1338.5">PA7</text><text class="a" x="988" y="1358.5">PA8</text><text class="a" x="988" y="1368.5">PA9</text><text class="a" x="988" y="1378.5">PA10</text><text class="a" x="988" y="1388.5">PA11</text><text class="a" x="988" y="1398.5">PA12</text><text class="a" x="988" y="1408.5">PA13(SWDIO)</text><text class="a" x="988" y="1418.5">PA14(SWCLK)</text><text class="a" x="988" y="1428.5">PA15</text><text class="a" x="988" y="1448.5">PC13</text><text class="a" x="988" y="1458.5">PC14-OSC32_IN(PC14)</text><text class="a" x="988" y="1468.5">PC15-OSC32_OUT(PC15)</text><text class="a" x="988" y="1488.5">PF0-OSC_IN(PF0)</text><text class="a" x="988" y="1498.5">PF1-OSC_OUT(PF1)</text><text class="a" x="988" y="1508.5">PF6</text><text class="a" x="988" y="1518.5">PF7</text>
<text class="ae" x="1121" y="1268.5">PB0</text><text class="ae" x="1121" y="1278.5">PB1</text><text class="ae" x="1121" y="1288.5">PB2</text><text class="ae" x="1121" y="1298.5">PB3</text><text class="ae" x="1121" y="1308.5">PB4</text><text class="ae" x="1121" y="1318.5">PB5</text><text class="ae" x="1121" y="1328.5">PB6</text><text class="ae" x="1121" y="1338.5">PB7</text><text class="ae" x="1121" y="1358.5">PB8</text><text class="ae" x="1121" y="1368.5">PB9</text><text class="ae" x="1121" y="1378.5">PB10</text><text class="ae" x="1121" y="1388.5">PB11</text><text class="ae" x="1121" y="1398.5">PB12</text><text class="ae" x="1121" y="1408.5">PB13</text><text class="ae" x="1121" y="1418.5">PB14</text><text class="ae" x="1121" y="1428.5">PB15</text><text class="ae" x="1121" y="1498.5">BOOT0</text><text class="ae" x="1121" y="1518.5">NRST</text>
<text class="c" x="973" y="1265">10</text><text class="c" x="973" y="1275">11</text><text class="c" x="973" y="1285">12</text><text class="c" x="973" y="1295">13</text><text class="c" x="973" y="1305">14</text><text class="c" x="973" y="1315">15</text><text class="c" x="973" y="1325">16</text><text class="c" x="973" y="1335">17</text><text class="c" x="973" y="1355">29</text><text class="c" x="973" y="1365">30</text><text class="c" x="973" y="1375">31</text><text class="c" x="973" y="1385">32</text><text class="c" x="973" y="1395">33</text><text class="c" x="973" y="1405">34</text><text class="c" x="973" y="1415">37</text><text class="c" x="973" y="1425">38</text><text class="c" x="976" y="1445">2</text><text class="c" x="976" y="1455">3</text><text class="c" x="976" y="1465">4</text><text class="c" x="976" y="1485">5</text><text class="c" x="976" y="1495">6</text><text class="c" x="973" y="1505">35</text><text class="c" x="973" y="1515">36</text>
<text class="c" x="1137" y="1265">18</text><text class="c" x="1137" y="1275">19</text><text class="c" x="1137" y="1285">20</text><text class="c" x="1137" y="1295">39</text><text class="c" x="1137" y="1305">40</text><text class="c" x="1137" y="1315">41</text><text class="c" x="1137" y="1325">42</text><text class="c" x="1137" y="1335">43</text><text class="c" x="1137" y="1355">45</text><text class="c" x="1137" y="1365">46</text><text class="c" x="1137" y="1375">21</text><text class="c" x="1137" y="1385">22</text><text class="c" x="1137" y="1395">25</text><text class="c" x="1137" y="1405">26</text><text class="c" x="1137" y="1415">27</text><text class="c" x="1137" y="1425">28</text><text class="c" x="1137" y="1495">44</text><text class="c" x="1134" y="1515">7</text>
<text class="l" x="927" y="1262.7">DS_SCL</text><text class="l" x="927" y="1272.7">DS_SDA</text><text class="l" x="927" y="1282.7">KEY1</text><text class="l" x="927" y="1292.7">RX2</text><text class="l" x="927" y="1302.7">LED2</text><text class="l" x="927" y="1312.7">LED1</text><text class="l" x="922" y="1322.7">DH_DAT</text><text class="l" x="907" y="1332.7">OUT_ON/OFF</text><text class="l" x="927" y="1362.7">TX</text><text class="l" x="927" y="1372.7">RX</text><text class="l" x="912" y="1382.7">WIFI_RESET</text><text class="l" x="927" y="1402.7">SWDIO</text><text class="l" x="927" y="1412.7">SWCLK</text>
<text class="l" x="1147" y="1262.7">TFT_CS</text><text class="l" x="1147" y="1272.7">TFT_RES</text><text class="l" x="1147" y="1282.7">TFT_RS</text><text class="l" x="1147" y="1292.7">TFT_SCL</text><text class="l" x="1147" y="1312.7">TFT_SDA</text><text class="l" x="1152" y="1412.7">BL_PWM</text><text class="l" x="1152" y="1492.7">BOOT0</text><text class="l" x="1147" y="1512.7">NRST</text>
<!-- crystal -->
<path class="w" d="M885 1445H875V1485H885M915 1445H935V1455H965M915 1485H935V1465H965"/>
<path class="p" d="M885 1445H898M902 1445H915M885 1485H898M902 1485H915M898 1437V1453M902 1437V1453M898 1477V1493M902 1477V1493M915 1445V1461M915 1470V1485M907 1461H923M907 1470H923"/>
<rect class="p" x="908" y="1463" width="14" height="5"/>
<path class="d" d="M915 1445h0M875 1485h0M915 1485h0"/>
<use href="#G" x="875" y="1495"/><text class="g" x="875" y="1511">GND</text>
<text class="n" x="877" y="1433">C22</text><text class="n" x="875" y="1443.4">22pF</text><text class="n" x="887" y="1473">C23</text><text class="n" x="889" y="1503">22pF</text>
<text class="n" x="925" y="1468">X1</text><text class="n" x="924" y="1477.7">8MHz</text>
<text class="t16" x="960" y="1565">STM32F030C8T6主控</text>
<!-- J1 -->
<rect class="p" x="1210" y="1540" width="30" height="50" rx="1"/>
<path class="p" d="M1200 1550H1210M1200 1560H1210M1200 1570H1210M1200 1580H1210"/>
<path class="w" d="M1170 1550H1200M1170 1560H1200M1170 1570H1200M1200 1580H1170"/>
<path class="d" d="M1212 1543h0" style="stroke-width:3.5;stroke:#880000"/>
<use href="#P" x="1170" y="1540"/><text class="g" x="1170" y="1537.7">+3.3V</text>
<use href="#G" x="1170" y="1590"/><text class="g" x="1170" y="1607">GND</text>
<text class="n" x="1215" y="1533.4">J1</text>
<text class="l" x="1172" y="1557.7">SWDIO</text><text class="l" x="1172" y="1567.7">SWCLK</text>
<text class="c" x="1206.7" y="1549">1</text><text class="c" x="1206.7" y="1559">2</text><text class="c" x="1206.7" y="1569">3</text><text class="c" x="1206.7" y="1579">4</text>
<text class="c" x="1217" y="1554">1</text><text class="c" x="1217" y="1564">2</text><text class="c" x="1217" y="1574">3</text><text class="c" x="1217" y="1584">4</text>
<text class="t12" x="1185" y="1610">仿真接口</text>
<!-- SW1 / SW2 -->
<text class="t12" x="1325" y="1245">按键输入</text><text class="n" x="1340" y="1258.4">SW1</text>
<text class="t12" x="1325" y="1340">复位按键</text><text class="n" x="1340" y="1353">SW2</text>
<use href="#P" x="1275" y="1260"/><path class="b" d="M1275 1270V1280M1275 1300V1310M1275 1360V1370M1275 1390V1400"/>
<use href="#P" x="1275" y="1350"/>
<use href="#V" x="1275" y="1280"/><use href="#V" x="1275" y="1370"/>
<text class="g" x="1275" y="1256">+3.3V</text><text class="g" x="1275" y="1346">+3.3V</text>
<path class="w" d="M1240 1310H1310M1240 1400H1310"/>
<path class="p" d="M1310 1270H1390V1280M1310 1310H1390M1310 1360H1390V1370M1310 1400H1390"/>
<path class="p" d="M1350 1270V1279M1350 1301V1310M1347 1283V1297M1342 1290H1347M1350 1360V1369M1350 1391V1400M1347 1373V1387M1342 1380H1347"/>
<circle cx="1350" cy="1281" r="1.5" fill="#fff" stroke="#880000"/><circle cx="1350" cy="1299" r="1.5" fill="#fff" stroke="#880000"/><circle cx="1350" cy="1371" r="1.5" fill="#fff" stroke="#880000"/><circle cx="1350" cy="1389" r="1.5" fill="#fff" stroke="#880000"/>
<path class="d" d="M1275 1310h0M1275 1400h0"/>
<use href="#X" x="1310" y="1270"/><use href="#X" x="1390" y="1310"/><use href="#X" x="1310" y="1360"/><use href="#X" x="1390" y="1400"/>
<path class="b" d="M1380 1280H1400M1384 1283H1396M1387 1286H1393M1380 1370H1400M1384 1373H1396M1387 1376H1393"/>
<text class="g" x="1393" y="1294">GND</text><text class="g" x="1393" y="1384">GND</text>
<text class="l" x="1242" y="1307.7">KEY1</text><text class="l" x="1242" y="1397.7">NRST</text>
<text class="n" x="1282" y="1293">R18</text><text class="n" x="1282" y="1302">10K</text><text class="n" x="1282" y="1383">R10</text><text class="n" x="1282" y="1392">10K</text>
<text class="c" x="1322" y="1269">1</text><text class="c" x="1378" y="1269">2</text><text class="c" x="1322" y="1309">3</text><text class="c" x="1378" y="1309">4</text>
<text class="c" x="1322" y="1359">1</text><text class="c" x="1378" y="1359">2</text><text class="c" x="1322" y="1399">3</text><text class="c" x="1378" y="1399">4</text>
<!-- U1.2 -->
<rect class="p" x="1320" y="1435" width="80" height="60" rx="1"/>
<path class="R" d="M1300 1445H1320M1300 1455H1320M1300 1465H1320M1300 1485H1320"/>
<path class="b" d="M1400 1455H1420M1400 1465H1420M1400 1485H1420M1430 1490V1500M1420 1500H1440M1424 1503H1436M1427 1506H1433"/>
<path class="w" d="M1210 1462V1445H1300V1485M1240 1445V1462M1270 1445V1462M1210 1467V1485H1270M1240 1467V1485M1270 1467V1485M1420 1455H1430V1490M1420 1465H1430M1420 1485H1430"/>
<use href="#C" x="1210" y="1463"/><use href="#C" x="1240" y="1463"/><use href="#C" x="1270" y="1463"/>
<path class="d" d="M1240 1445h0M1270 1445h0M1280 1445h0M1300 1445h0M1300 1455h0M1300 1465h0M1240 1485h0M1270 1485h0M1430 1465h0M1430 1485h0"/>
<use href="#P" x="1280" y="1435"/><text class="g" x="1280" y="1430">+3.3V</text>
<use href="#G" x="1270" y="1495"/><text class="g" x="1270" y="1512">GND</text>
<text class="g" x="1430" y="1517">GND</text>
<text class="n" x="1212" y="1458">C19</text><text class="n" x="1212" y="1478">100nF</text><text class="n" x="1242" y="1458">C18</text><text class="n" x="1242" y="1478">100nF</text><text class="n" x="1272" y="1458">C17</text><text class="n" x="1272" y="1478">100nF</text>
<text class="n" x="1351" y="1423">U1.2</text><text class="n" x="1351" y="1431.7">STM32F030C8T6</text>
<text class="ar" x="1323" y="1449">VDD</text><text class="ar" x="1323" y="1459">VDD</text><text class="ar" x="1323" y="1469">VDD</text><text class="ar" x="1323" y="1489">VDDA</text>
<text class="ake" x="1397" y="1459">VSS</text><text class="ake" x="1397" y="1469">VSS</text><text class="ake" x="1397" y="1489">VSSA</text>
<text class="cr" x="1311" y="1444">1</text><text class="cr" x="1308" y="1454">24</text><text class="cr" x="1308" y="1464">48</text><text class="cr" x="1311" y="1484">9</text>
<text class="ck" x="1412" y="1454">23</text><text class="ck" x="1412" y="1464">47</text><text class="ck" x="1409" y="1484">8</text>
<!-- J2 -->
<rect class="p" x="1295" y="1555" width="20" height="40" rx="1"/>
<path class="p" d="M1315 1565H1325M1315 1575H1325M1315 1585H1325M1350 1575H1360M1380 1575H1390"/>
<path class="w" d="M1350 1550V1565H1325M1325 1575H1350M1325 1585H1350V1595M1390 1575H1420"/>
<use href="#H" x="1360" y="1575"/>
<path class="d" d="M1310 1590h0" style="stroke-width:3.5;stroke:#880000"/>
<use href="#P" x="1350" y="1540"/><text class="g" x="1350" y="1537.7">+3.3V</text>
<use href="#G" x="1350" y="1605"/><text class="gs" x="1362" y="1609">GND</text>
<text class="n" x="1301" y="1543">J2</text><text class="n" x="1357" y="1558">R19</text><text class="n" x="1362" y="1567">10k</text>
<text class="l" x="1397" y="1572.7">BOOT0</text>
<text class="c" x="1318" y="1564">3</text><text class="c" x="1318" y="1574">2</text><text class="c" x="1318" y="1584">1</text>
<text class="c" x="1308" y="1569">3</text><text class="c" x="1308" y="1579">2</text><text class="c" x="1308" y="1589">1</text>

<!-- block 6: power -->
<rect x="220" y="1690" width="25" height="50" style="fill:#eee;stroke:#880000"/>
<path class="p" d="M245 1695H265M245 1705H265M245 1715H265M245 1725H265M245 1735H265M230 1740V1750"/>
<path class="w" d="M265 1695H285M265 1735H285V1750M230 1750H285"/>
<use href="#X" x="265" y="1705"/><use href="#X" x="265" y="1715"/><use href="#X" x="265" y="1725"/>
<path class="d" d="M285 1750h0"/>
<use href="#P" x="285" y="1685"/><text class="g" x="285" y="1682.7">+5V</text>
<use href="#G" x="285" y="1760"/><text class="g" x="285" y="1774">GND</text>
<text class="n" x="222.7" y="1682.7">USB1</text>
<text class="ae" x="241.6" y="1699">V+</text><text class="ae" x="241.6" y="1709">D-</text><text class="ae" x="241.6" y="1719">D+</text><text class="ae" x="241.6" y="1729">ID</text><text class="ae" x="241.6" y="1739">V-</text>
<text class="c" x="252.5" y="1695">1</text><text class="c" x="252.5" y="1705">2</text><text class="c" x="252.5" y="1715">3</text><text class="c" x="252.5" y="1725">4</text><text class="c" x="252.5" y="1735">5</text>
<rect class="p" x="225" y="1820" width="20" height="30" rx="1"/>
<path class="p" d="M245 1830H255M245 1840H255"/>
<path class="w" d="M255 1830H275M255 1840H275"/>
<use href="#P" x="275" y="1820"/><text class="g" x="275" y="1817.7">+5V</text>
<use href="#G" x="275" y="1850"/><text class="g" x="275" y="1867.7">GND</text>
<text class="n" x="226" y="1813">CN1</text>
<text class="c" x="238" y="1834">2</text><text class="c" x="238" y="1844">1</text><text class="c" x="249" y="1829">2</text><text class="c" x="249" y="1839">1</text>
<path class="d" d="M240 1845h0" style="stroke-width:3.5;stroke:#880000"/>
<!-- U13 -->
<rect class="p" x="450" y="1675" width="70" height="40" rx="1"/>
<path class="p" d="M440 1695H450M440 1705H450M520 1695H530"/>
<path class="b" d="M440 1685H450"/>
<path class="w" d="M435 1675V1685H440M380 1695H440M350 1705H440M530 1695H610V1735H565M375 1745H425"/>
<path class="d" d="M455 1680h0" style="stroke-width:3;stroke:#880000"/>
<use href="#Gu" x="435" y="1665"/><path class="b" d="M435 1665V1675"/><text class="g" x="435" y="1656">GND</text>
<use href="#P" x="380" y="1685"/><text class="g" x="396" y="1682.7">3.3V_WIFI</text>
<use href="#P" x="350" y="1695"/><text class="g" x="350" y="1692.7">+5V</text>
<path class="p" d="M375 1705V1723M375 1727V1745M425 1705V1722M425 1730V1745M420 1718H424M422 1716V1720"/>
<use href="#C" x="375" y="1723"/><use href="#CP" x="425" y="1722"/>
<path class="d" d="M350 1705h0M375 1705h0M425 1705h0M425 1745h0M565 1695h0M565 1735h0"/>
<use href="#G" x="425" y="1755"/><text class="g" x="425" y="1771">GND</text>
<use href="#P" x="565" y="1685"/><text class="g" x="581" y="1682.7">3.3V_WIFI</text>
<path class="p" d="M565 1695V1713M565 1721V1735M610 1695V1713M610 1718V1735M567 1708H571M569 1706V1710"/>
<use href="#CP" x="565" y="1713"/><use href="#C" x="610" y="1713"/>
<use href="#G" x="565" y="1745"/><text class="g" x="565" y="1761">GND</text>
<text class="n" x="479" y="1662.7">U13</text><text class="n" x="479" y="1671.7">AMS1117-3.3</text>
<text class="ak" x="454" y="1689">GND/ADJ</text><text class="a" x="454" y="1699">Vout</text><text class="a" x="454" y="1709">Vin</text><text class="ae" x="516.5" y="1699">Vout</text>
<text class="ck" x="446" y="1684">1</text><text class="c" x="446" y="1694">2</text><text class="c" x="446" y="1704">3</text><text class="c" x="524" y="1694">4</text>
<text class="n" x="385.6" y="1728">C10</text><text class="n" x="385.6" y="1737">100nF</text><text class="n" x="437" y="1728">C8</text><text class="n" x="437" y="1737">47uF</text>
<text class="n" x="577" y="1718">C9</text><text class="n" x="577" y="1727">47uF</text><text class="n" x="620" y="1718">C11</text><text class="n" x="620" y="1727">100nF</text>
<!-- U6 -->
<rect class="p" x="375" y="1795" width="60" height="30" rx="1"/>
<path class="p" d="M365 1810H375M435 1805H445M350 1810V1828M350 1832V1850M475 1805V1823M475 1827V1845M520 1805V1823M520 1831V1845M522 1818H528M525 1815V1821"/>
<path class="b" d="M435 1815H445M350 1850V1860"/>
<path class="w" d="M350 1810H365M445 1805H520M445 1815H455V1845H520"/>
<use href="#C" x="350" y="1828"/><use href="#C" x="475" y="1823"/><use href="#CP" x="520" y="1823"/>
<path class="d" d="M350 1810h0M475 1805h0M475 1845h0"/>
<path class="d" d="M430 1820h0" style="stroke-width:3;stroke:#880000"/>
<use href="#P" x="350" y="1800"/><text class="g" x="350" y="1797">+5V</text>
<use href="#G" x="350" y="1860"/><text class="g" x="350" y="1877.7">GND</text>
<use href="#P" x="475" y="1795"/><text class="g" x="475" y="1794">+3.3V</text>
<use href="#G" x="475" y="1855"/><text class="g" x="475" y="1872">GND</text>
<text class="n" x="379.5" y="1783">U6</text><text class="n" x="376" y="1793">XC6206P332MR</text>
<text class="a" x="378.6" y="1814">VIN</text><text class="ae" x="431" y="1809">VOUT</text><text class="ake" x="430" y="1819">VSS</text>
<text class="c" x="371.5" y="1809">3</text><text class="c" x="438" y="1804">2</text><text class="ck" x="438" y="1814">1</text>
<text class="n" x="360" y="1833">C15</text><text class="n" x="360" y="1842">100nF</text>
<text class="n" x="486" y="1828">C14</text><text class="n" x="486" y="1837">100nF</text><text class="n" x="532" y="1828">C16</text><text class="n" x="532" y="1837">47uF</text>
<text class="t16" x="629" y="1800">电源输入部分</text>

<!-- block 7: RTC -->
<rect class="p" x="980" y="1695" width="80" height="90" rx="1"/>
<path class="p" d="M960 1705H980M960 1715H980M960 1735H980M960 1755H980M1060 1705H1080M1060 1725H1080M980 1702L984 1705L980 1708M910 1660V1670M910 1690V1700M925 1665V1670M925 1690V1700"/>
<path class="R" d="M960 1775H980"/>
<path class="b" d="M1060 1775H1080"/>
<path class="w" d="M910 1660H925V1665M910 1700V1715H960M925 1700V1705H960M935 1755H960M875 1755V1820M960 1775V1785"/>
<use href="#V" x="910" y="1670"/><use href="#V" x="925" y="1670"/>
<use href="#X" x="1080" y="1705"/><use href="#X" x="1080" y="1725"/><use href="#X" x="960" y="1735"/>
<path class="d" d="M910 1660h0M960 1775h0M960 1785h0"/>
<use href="#P" x="910" y="1650"/><text class="g" x="910" y="1648.7">+3.3V</text>
<path class="b" d="M875 1755H895M915 1755H935M921 1745H929M925 1741V1749"/>
<path d="M895 1747V1763M902 1750V1760M908 1747V1763M915 1750V1760" style="stroke:#3333cc"/>
<use href="#G" x="875" y="1830"/><text class="g" x="875" y="1847.7">GND</text>
<path class="b" d="M950 1775H960M950 1770V1780"/><text class="ge" x="949" y="1779">+3.3V</text>
<path class="p" d="M960 1785V1803M960 1807V1815"/><use href="#C" x="960" y="1803"/>
<path class="w" d="M960 1808V1815"/>
<use href="#G" x="960" y="1825"/><text class="g" x="960" y="1842.7">GND</text>
<use href="#Gr" x="1090" y="1775"/><path class="b" d="M1070 1775H1080"/><text class="gs" x="1097" y="1779">GND</text>
<text class="n" x="1014" y="1683.7">U5</text><text class="n" x="1014" y="1691.7">DS3231MZ+ copy</text>
<text class="n" x="887" y="1678">R11</text><text class="n" x="886" y="1688">4.7K</text><text class="n" x="931" y="1673">R12</text><text class="n" x="930" y="1683">4.7K</text>
<text class="l" x="932" y="1702.7">DS_SCL</text><text class="l" x="932" y="1712.7">DS_SDA</text>
<text class="n" x="888.5" y="1728">DS-BT1</text><text class="n" x="888.5" y="1737">CR1220</text>
<text class="n" x="962" y="1798">C20</text><text class="n" x="962" y="1818">100nF</text>
<text class="a" x="983.5" y="1708.5">SCL</text><text class="a" x="983.5" y="1718.5">SDA</text><text class="a" x="983.5" y="1738.5">RST</text><text class="a" x="983.5" y="1758.5">VBAT</text><text class="ar" x="983.5" y="1778.5">VCC</text>
<text class="ae" x="1057" y="1708.5">32kHz</text><text class="ae" x="1057" y="1728.5">INTSQW</text><text class="ake" x="1057" y="1778.5">GND</text>
<text class="c" x="971" y="1704">8</text><text class="c" x="971" y="1714">7</text><text class="c" x="971" y="1734">4</text><text class="c" x="971" y="1754">6</text><text class="cr" x="971" y="1774">2</text>
<text class="c" x="1069" y="1704">1</text><text class="c" x="1069" y="1724">3</text><text class="ck" x="1069" y="1774">5</text>
<text class="t12" x="880.5" y="1800">时钟电池</text>
<text class="t16" x="935" y="1895">高精度实时时钟</text>

<!-- block 8: EEPROM -->
<rect class="p" x="1295" y="1700" width="60" height="40" rx="1"/>
<path class="p" d="M1285 1710H1295M1285 1730H1295M1355 1710H1365"/>
<path class="b" d="M1285 1720H1295"/>
<path class="R" d="M1355 1730H1365"/>
<path class="w" d="M1246 1710H1285M1244 1720H1285M1246 1730H1285M1365 1730H1370"/>
<path class="d" d="M1297 1703h0" style="stroke-width:3;stroke:#880000"/>
<use href="#Gl" x="1234" y="1720"/><text class="ge" x="1228" y="1724">GND</text>
<use href="#Gr" x="1375" y="1710"/><text class="gs" x="1382" y="1714">GND</text>
<use href="#Pl" x="1380" y="1730"/><path class="b" d="M1370 1730H1380"/><text class="gs" x="1381.5" y="1734">+3.3V</text>
<text class="n" x="1318" y="1686">U4</text><text class="n" x="1318" y="1695">FT24C16A-ELR-T</text>
<text class="l" x="1247" y="1707.7">DS_SCL</text><text class="l" x="1247" y="1727.7">DS_SDA</text>
<text class="a" x="1299" y="1714">SCL</text><text class="ak" x="1299" y="1724">GND</text><text class="a" x="1299" y="1734">SDA</text>
<text class="ae" x="1352" y="1714">WP</text><text class="are" x="1352" y="1734">VCC</text>
<text class="c" x="1291" y="1709">1</text><text class="ck" x="1291" y="1719">2</text><text class="c" x="1291" y="1729">3</text><text class="c" x="1359" y="1709">5</text><text class="cr" x="1359" y="1729">4</text>
<text class="t12" x="1270" y="1795">EEPROM存储器</text>
</g>
</svg>
</body></html>
